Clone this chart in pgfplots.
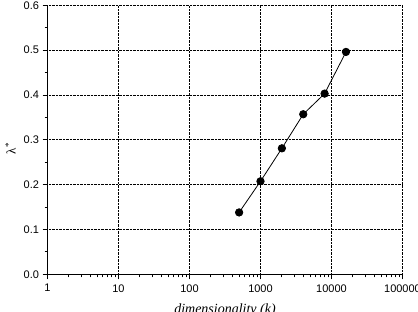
\documentclass[border=0pt]{standalone}
\usepackage{fontspec}
\setmainfont{Liberation Sans}
\newfontfamily\serif{Liberation Serif}
\usepackage{pgfplots}
\pgfplotsset{compat=1.18}
\begin{document}
\begin{tikzpicture}
\begin{axis}[
  name=ax,
  scale only axis, width=355bp, height=269bp,
  xmode=log, log basis x=10,
  xmin=1, xmax=100000, ymin=0, ymax=0.6,
  axis lines*=left,
  axis line style={line width=1.2bp, -},
  grid=major,
  grid style={black, densely dotted, line width=0.6bp},
  xtick={1,10,100,1000,10000,100000},
  xticklabels={1,10,100,1000,10000,100000},
  minor xtick={2,3,4,5,6,7,8,9,20,30,40,50,60,70,80,90,200,300,400,500,600,700,800,900,2000,3000,4000,5000,6000,7000,8000,9000,20000,30000,40000,50000,60000,70000,80000,90000},
  ytick={0,0.1,0.2,0.3,0.4,0.5,0.6},
  yticklabels={0.0,0.1,0.2,0.3,0.4,0.5,0.6},
  minor ytick={0.05,0.15,0.25,0.35,0.45,0.55},
  tick align=outside,
  major tick length=5bp, minor tick length=3bp,
  tick style={black, line width=0.8bp},
  ticklabel style={font=\fontsize{11bp}{13bp}\selectfont},
  xticklabel style={yshift=-1.5bp},
  xlabel={\serif\itshape dimensionality (k)},
  xlabel style={font=\fontsize{14bp}{16bp}\selectfont, at={(axis description cs:0.5,0)}, anchor=base, yshift=-39bp},
  ylabel={\serif λ\textsuperscript{*}},
  ylabel style={font=\fontsize{13bp}{15bp}\selectfont, at={(axis description cs:-0.104,0.468)}, anchor=center},
]
\addplot[black, line width=0.8bp, mark=*, mark size=3.7bp, mark options={solid, fill=black}] coordinates {
  (500,0.138) (1000,0.2075) (2000,0.281) (4000,0.357) (8000,0.403) (16000,0.496)
};
\end{axis}
\pgfresetboundingbox
\useasboundingbox (ax.south west) ++(-47.5bp,-37.7bp) rectangle ++(418bp,312bp);
\end{tikzpicture}
\end{document}
